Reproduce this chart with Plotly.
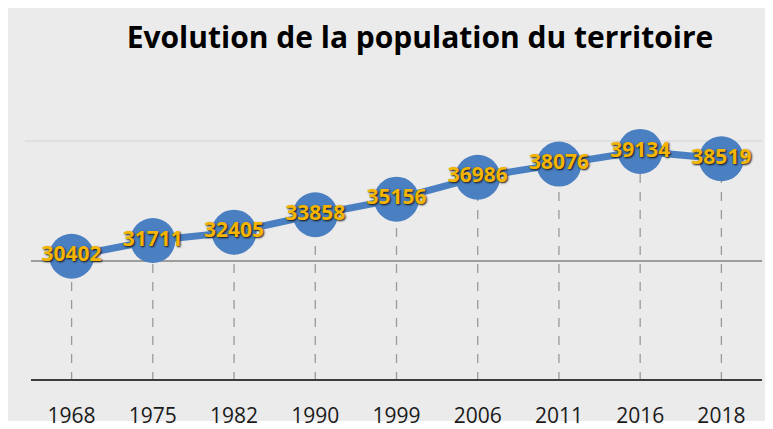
import plotly.graph_objects as go

years = ["1968", "1975", "1982", "1990", "1999", "2006", "2011", "2016", "2018"]
population = [30402, 31711, 32405, 33858, 35156, 36986, 38076, 39134, 38519]
y_min, y_max = 20000, 42000
grid_light = [40000]
grid_dark = [30000]

BLUE = "#4a7fc1"
# the page body adds an 8px offset; the figure fills the rest of the window
W, H = 765, 421
L, R, T, B = 23, 11, 109, 48

fig = go.Figure()

# dashed drop lines from each point down to the axis
dx, dy = [], []
for yr, v in zip(years, population):
    dx += [yr, yr, None]
    dy += [y_min, v, None]
fig.add_trace(go.Scatter(x=dx, y=dy, mode="lines",
                         line=dict(color="#9a9a9a", width=1.3, dash="dash"),
                         hoverinfo="skip", showlegend=False, cliponaxis=False))

fig.add_trace(go.Scatter(
    x=years, y=population, mode="lines+markers+text",
    line=dict(color=BLUE, width=7),
    marker=dict(size=45, color=BLUE, line=dict(width=0)),
    text=[str(v) for v in population], textposition="middle center",
    textfont=dict(family="Open Sans", size=21, color="#f5b400", weight="bold",
                  shadow="1px 1px 2px #111111"),
    cliponaxis=False, showlegend=False))

pw, ph = W - L - R, H - T - B
def px_x(p): return (p - L) / pw
def px_y(p): return (H - B - p) / ph

shapes = []
# white strip at the bottom of the screenshot
shapes.append(dict(type="rect", xref="paper", yref="paper",
                   x0=px_x(-5), x1=px_x(W + 5), y0=px_y(H + 5), y1=px_y(413),
                   fillcolor="white", line=dict(width=0), layer="below"))
for g in grid_light:
    shapes.append(dict(type="line", xref="paper", yref="y", x0=px_x(L - 6), x1=1,
                       y0=g, y1=g, line=dict(color="#d4d4d4", width=1.2), layer="below"))
for g in grid_dark:
    shapes.append(dict(type="line", xref="paper", yref="y", x0=0, x1=1,
                       y0=g, y1=g, line=dict(color="#9c9c9c", width=2), layer="below"))
shapes.append(dict(type="line", xref="paper", yref="y", x0=0, x1=1,
                   y0=y_min, y1=y_min, line=dict(color="#3c3c3c", width=4), layer="above"))

fig.update_layout(
    width=W, height=H,
    margin=dict(l=L, r=R, t=T, b=B, autoexpand=False),
    paper_bgcolor="#ebebeb", plot_bgcolor="rgba(0,0,0,0)",
    shapes=shapes,
    title=dict(text="<b>Evolution de la population du territoire</b>",
               xref="container", yref="container", x=412 / W, y=1 - 29 / H,
               xanchor="center", yanchor="middle",
               font=dict(family="Open Sans", size=30, color="#000000")),
    xaxis=dict(type="category", range=[-0.5, 8.5], showgrid=False, zeroline=False,
               showline=False, ticks="outside", ticklen=16, tickcolor="rgba(0,0,0,0)",
               automargin=False,
               tickfont=dict(family="Open Sans", size=21, color="#1a1a1a")),
    yaxis=dict(range=[y_min, y_max], showgrid=False, zeroline=False, automargin=False,
               showticklabels=False, showline=False),
)

fig.write_html("out.html")
